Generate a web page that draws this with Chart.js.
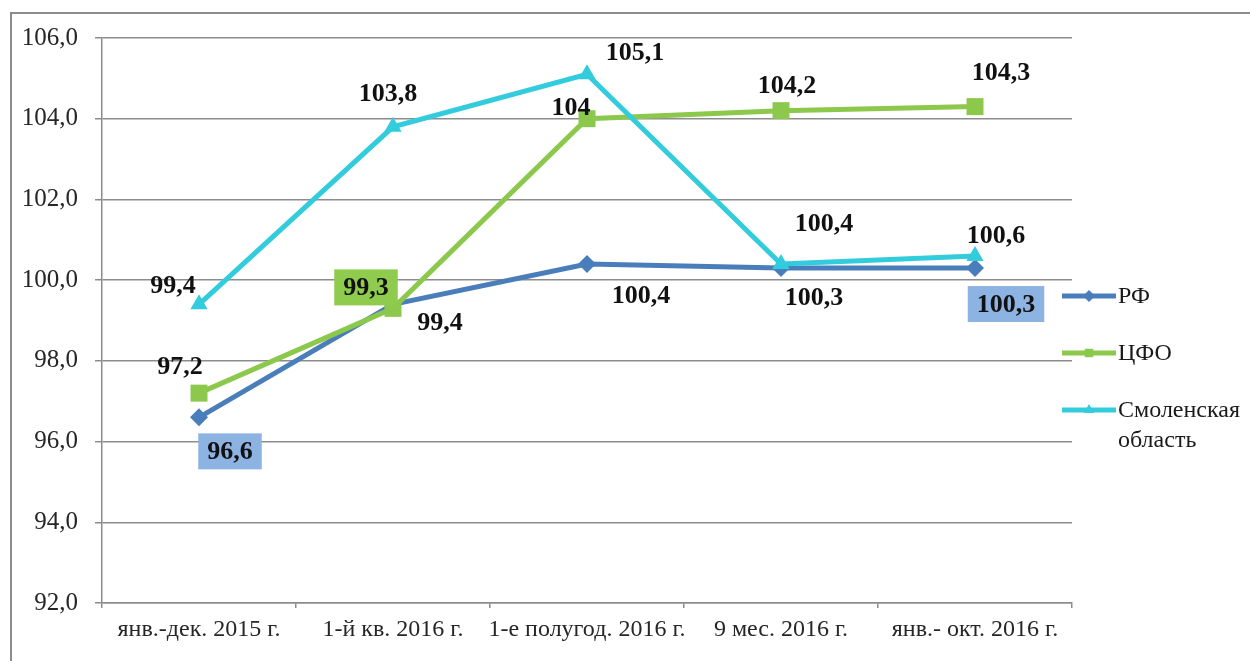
<!DOCTYPE html>
<html>
<head>
<meta charset="utf-8">
<script src="https://cdn.jsdelivr.net/npm/chart.js@4/dist/chart.umd.min.js"></script>
<style>
  html, body { margin: 0; padding: 0; background: #fff; }
  canvas { display: block; }
</style>
</head>
<body>
<canvas id="chart" width="1250" height="661"></canvas>
<script>
// Chart data
const categories = ['янв.-дек. 2015 г.', '1-й кв. 2016 г.', '1-е полугод. 2016 г.', '9 мес. 2016 г.', 'янв.- окт. 2016 г.'];
const rfValues = [96.6, 99.4, 100.4, 100.3, 100.3];
const cfoValues = [97.2, 99.3, 104, 104.2, 104.3];
const smolValues = [99.4, 103.8, 105.1, 100.4, 100.6];
const seriesNames = ['РФ', 'ЦФО', ['Смоленская', 'область']];
const yTicks = [92, 94, 96, 98, 100, 102, 104, 106];

// label placement (pixel offsets from the point) and optional box colour
const labelStyle = [
    [{dx: 31, dy: 34, bg: '#8db3e2'}, {dx: 47, dy: 18}, {dx: 54, dy: 31}, {dx: 33, dy: 29}, {dx: 31, dy: 36, bg: '#8db3e2'}],
    [{dx: -19, dy: -27}, {dx: -27, dy: -21, bg: '#8fcb4c'}, {dx: -16, dy: -11}, {dx: 6, dy: -25}, {dx: 26, dy: -34}],
    [{dx: -26, dy: -19}, {dx: -5, dy: -34}, {dx: 48, dy: -22}, {dx: 43, dy: -41}, {dx: 21, dy: -21}]
];

const serif = "'Liberation Serif', 'Times New Roman', serif";

const frame = {
    id: 'frame',
    beforeDraw(chart) {
        const ctx = chart.ctx;
        ctx.save();
        ctx.fillStyle = '#fff';
        ctx.fillRect(0, 0, chart.width, chart.height);
        ctx.strokeStyle = '#8c8c8c';
        ctx.lineWidth = 2;
        ctx.strokeRect(11, 13, 1400, 800);
        ctx.restore();
    }
};

const valueLabels = {
    id: 'valueLabels',
    afterDatasetsDraw(chart) {
        const ctx = chart.ctx;
        ctx.save();
        ctx.font = 'bold 26px ' + serif;
        ctx.textAlign = 'center';
        ctx.textBaseline = 'middle';
        chart.data.datasets.forEach((ds, i) => {
            const meta = chart.getDatasetMeta(i);
            meta.data.forEach((pt, j) => {
                const s = labelStyle[i][j];
                const text = String(ds.data[j]).replace('.', ',');
                const x = pt.x + s.dx, y = pt.y + s.dy;
                if (s.bg) {
                    const w = ctx.measureText(text).width + 18;
                    ctx.fillStyle = s.bg;
                    ctx.fillRect(x - w / 2, y - 18, w, 36);
                }
                ctx.fillStyle = '#111';
                ctx.fillText(text, x, y + 1);
            });
        });
        ctx.restore();
    }
};

const sideLegend = {
    id: 'sideLegend',
    afterDraw(chart) {
        const ctx = chart.ctx;
        const rows = [296, 353, 410];
        ctx.save();
        chart.data.datasets.forEach((ds, i) => {
            const y = rows[i];
            ctx.strokeStyle = ds.borderColor;
            ctx.lineWidth = 5;
            ctx.beginPath();
            ctx.moveTo(1062, y);
            ctx.lineTo(1116, y);
            ctx.stroke();
            ctx.fillStyle = ds.borderColor;
            Chart.helpers.drawPoint(ctx, {pointStyle: ds.pointStyle, radius: 6, rotation: 0, borderWidth: 0}, 1089, y);
            ctx.fillStyle = '#1a1a1a';
            ctx.font = '24px ' + serif;
            ctx.textAlign = 'left';
            ctx.textBaseline = 'middle';
            const name = seriesNames[i];
            const lines = Array.isArray(name) ? name : [name];
            lines.forEach((t, k) => ctx.fillText(t, 1118, y + 1 + k * 30));
        });
        ctx.restore();
    }
};

function series(label, values, color, style, radius, order) {
    return {
        label: label,
        data: values,
        borderColor: color,
        backgroundColor: color,
        pointBackgroundColor: color,
        pointBorderColor: color,
        borderWidth: 5,
        pointStyle: style,
        pointRadius: radius,
        pointBorderWidth: 0,
        tension: 0,
        order: order
    };
}

new Chart(document.getElementById('chart'), {
    type: 'line',
    data: {
        labels: categories,
        datasets: [
            series('РФ', rfValues, '#4a7ebb', 'rectRot', 9, 2),
            series('ЦФО', cfoValues, '#8cc84b', 'rect', 12, 1),
            series('Смоленская область', smolValues, '#33ccdd', 'triangle', 10, 0)
        ]
    },
    options: {
        responsive: false,
        animation: false,
        layout: { padding: { left: 0, top: 38, right: 178, bottom: 0 } },
        plugins: {
            legend: { display: false },
            tooltip: { enabled: false }
        },
        scales: {
            x: {
                offset: true,
                afterFit: scale => { scale.height = 58; },
                grid: {
                    offset: true,
                    drawOnChartArea: false,
                    drawTicks: true,
                    tickLength: 5,
                    color: '#8c8c8c',
                    lineWidth: 1.5
                },
                border: { display: true, color: '#8c8c8c', width: 1.5 },
                ticks: {
                    color: '#262626',
                    padding: 7,
                    maxRotation: 0,
                    autoSkip: false,
                    font: { family: serif, size: 24 }
                }
            },
            y: {
                min: yTicks[0],
                max: yTicks[yTicks.length - 1],
                afterFit: scale => { scale.width = 102; },
                afterBuildTicks: scale => { scale.ticks = yTicks.map(v => ({value: v})); },
                grid: {
                    color: '#8c8c8c',
                    lineWidth: 1.5,
                    tickLength: 7
                },
                border: { display: true, color: '#8c8c8c', width: 1.5 },
                ticks: {
                    color: '#262626',
                    padding: 17,
                    font: { family: serif, size: 25 },
                    callback: v => v.toFixed(1).replace('.', ',')
                }
            }
        }
    },
    plugins: [frame, valueLabels, sideLegend]
});
</script>
</body>
</html>
